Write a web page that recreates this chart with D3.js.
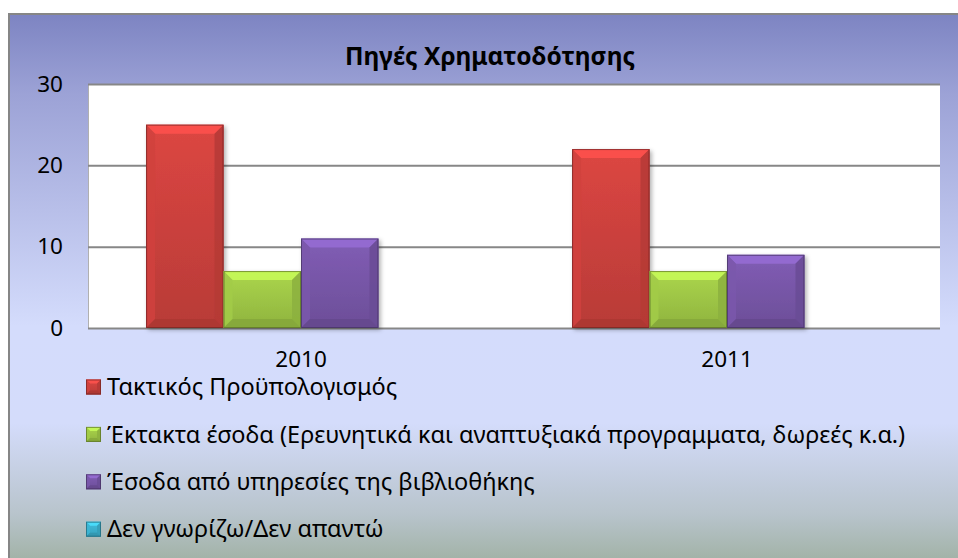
<!DOCTYPE html>
<html>
<head>
<meta charset="utf-8">
<script src="https://cdn.jsdelivr.net/npm/d3@7"></script>
<style>
  body { margin: 0; background: #fff; }
  text { font-family: "Noto Sans", "Open Sans", sans-serif; fill: #000; }
</style>
</head>
<body>
<div id="chart"></div>
<script>
const title = "Πηγές Χρηματοδότησης"
const years = ["2010", "2011"]
const seriesNames = [
  "Τακτικός Προϋπολογισμός",
  "Έκτακτα έσοδα (Ερευνητικά και αναπτυξιακά προγραμματα, δωρεές κ.α.)",
  "Έσοδα από υπηρεσίες της βιβλιοθήκης",
  "Δεν γνωρίζω/Δεν απαντώ",
]
const seriesColors = ["#c9403c", "#9cc445", "#7655a6", "#3bafcc"]
// values per series, one per year
const valuesTaktikos = [25, 22]
const valuesEktakta = [7, 7]
const valuesYpiresies = [11, 9]
const valuesDenGnorizo = [0, 0]
const yTicks = [0, 10, 20, 30]

const seriesValues = [valuesTaktikos, valuesEktakta, valuesYpiresies, valuesDenGnorizo]

const width = 958
const height = 558
const plot = {left: 88, right: 940, top: 84, bottom: 328}
const labelSize = "22.5px"

const svg = d3
  .select("#chart")
  .append("svg")
  .attr("width", width)
  .attr("height", height)

const defs = svg.append("defs")

// background of the whole chart area
const bg = defs
  .append("linearGradient")
  .attr("id", "bgGrad")
  .attr("x1", 0).attr("y1", 0).attr("x2", 0).attr("y2", 1)
bg.selectAll("stop")
  .data([
    {offset: "0%", color: "#7d84c2"},
    {offset: "14%", color: "#9ca2d6"},
    {offset: "55%", color: "#d4dcfc"},
    {offset: "72%", color: "#d4dcfb"},
    {offset: "88%", color: "#b8c4cc"},
    {offset: "100%", color: "#97aa95"},
  ])
  .enter()
  .append("stop")
  .attr("offset", d => d.offset)
  .attr("stop-color", d => d.color)

const shadow = defs.append("filter").attr("id", "shadow")
  .attr("x", "-10%").attr("y", "-10%").attr("width", "130%").attr("height", "130%")
shadow.append("feDropShadow")
  .attr("dx", 2).attr("dy", 2).attr("stdDeviation", 2)
  .attr("flood-color", "#000").attr("flood-opacity", 0.3)

// face gradient for each series
seriesColors.forEach((c, i) => {
  const g = defs.append("linearGradient")
    .attr("id", "face" + i)
    .attr("x1", 0).attr("y1", 0).attr("x2", 0).attr("y2", 1)
  g.append("stop").attr("offset", "0%").attr("stop-color", d3.color(c).brighter(0.25))
  g.append("stop").attr("offset", "100%").attr("stop-color", d3.color(c).darker(0.25))
})

svg.append("rect")
  .attr("x", 9)
  .attr("y", 14)
  .attr("width", width + 10)
  .attr("height", height + 10)
  .attr("fill", "url(#bgGrad)")
  .attr("stroke", "#868686")
  .attr("stroke-width", 2)

svg.append("text")
  .attr("x", 490)
  .attr("y", 65)
  .attr("text-anchor", "middle")
  .style("font-size", "24.5px")
  .style("font-weight", "bold")
  .text(title)

const y = d3.scaleLinear().domain([0, 30]).range([plot.bottom, plot.top])
const x0 = d3.scaleBand()
  .domain(years)
  .range([plot.left, plot.right])
  .paddingInner(1.5 / 5.5)
  .paddingOuter(0.75 / 5.5)
const x1 = d3.scaleBand()
  .domain(d3.range(seriesNames.length))
  .range([0, x0.bandwidth()])

// plot area
svg.append("rect")
  .attr("x", plot.left)
  .attr("y", plot.top)
  .attr("width", plot.right - plot.left)
  .attr("height", plot.bottom - plot.top)
  .attr("fill", "#fff")
svg.append("line")
  .attr("x1", plot.left + 0.5).attr("x2", plot.left + 0.5)
  .attr("y1", plot.top).attr("y2", plot.bottom)
  .attr("stroke", "#b0b0b0")

const yAxis = d3.axisLeft(y)
  .tickValues(yTicks)
  .tickSize(-(plot.right - plot.left))
  .tickPadding(25)
svg.append("g")
  .attr("transform", `translate(${plot.left},0)`)
  .call(yAxis)
  .call(g => g.select(".domain").remove())
  .call(g => g.selectAll(".tick line").attr("stroke", "#878787").attr("stroke-width", 2))
  .call(g => g.selectAll(".tick text")
    .attr("fill", "#000")
    .style("font-size", labelSize)
    .style("font-family", "'Noto Sans', sans-serif"))

const xAxis = d3.axisBottom(x0).tickSize(0).tickPadding(23)
svg.append("g")
  .attr("transform", `translate(0,${plot.bottom})`)
  .call(xAxis)
  .call(g => g.select(".domain").remove())
  .call(g => g.selectAll(".tick text")
    .attr("fill", "#000")
    .style("font-size", labelSize)
    .style("font-family", "'Noto Sans', sans-serif"))

// bevelled box, like the office 2007 style
function bevelBox(g, x, yTop, w, h, i, b) {
  const c = d3.color(seriesColors[i])
  if (h <= 0) return
  b = Math.min(b, h / 2, w / 2)
  const x2 = x + w, y2 = yTop + h
  g.append("rect")
    .attr("x", x).attr("y", yTop).attr("width", w).attr("height", h)
    .attr("fill", `url(#face${i})`)
  const pts = [
    {p: [[x, yTop], [x2, yTop], [x2 - b, yTop + b], [x + b, yTop + b]], f: c.brighter(0.7)},
    {p: [[x, yTop], [x + b, yTop + b], [x + b, y2 - b], [x, y2]], f: c.brighter(0.1)},
    {p: [[x2, yTop], [x2 - b, yTop + b], [x2 - b, y2 - b], [x2, y2]], f: c.darker(0.3)},
    {p: [[x, y2], [x + b, y2 - b], [x2 - b, y2 - b], [x2, y2]], f: c.darker(0.45)},
  ]
  g.selectAll(null)
    .data(pts)
    .enter()
    .append("polygon")
    .attr("points", d => d.p.map(q => q.join(",")).join(" "))
    .attr("fill", d => d.f)
    .attr("opacity", 0.85)
  g.append("rect")
    .attr("x", x + 0.5).attr("y", yTop + 0.5).attr("width", w - 1).attr("height", h - 1)
    .attr("fill", "none")
    .attr("stroke", c.darker(1.6))
    .attr("stroke-opacity", 0.7)
}

const bars = svg.append("g").attr("filter", "url(#shadow)")
years.forEach((yr, j) => {
  seriesValues.forEach((vals, i) => {
    const v = vals[j]
    const g = bars.append("g")
    bevelBox(g, x0(yr) + x1(i), y(v), x1.bandwidth(), y(0) - y(v), i, 9)
  })
})

// legend
const legend = svg.append("g")
  .selectAll("g")
  .data(seriesNames)
  .enter()
  .append("g")
  .attr("transform", (d, i) => `translate(86,${387 + i * 47.4})`)
legend.each(function (d, i) {
  bevelBox(d3.select(this), 0, -7.5, 15, 15, i, 4)
})
legend.append("text")
  .attr("x", 21)
  .attr("y", 0)
  .attr("dy", "0.35em")
  .style("font-size", "23.5px")
  .text(d => d)
</script>
</body>
</html>
